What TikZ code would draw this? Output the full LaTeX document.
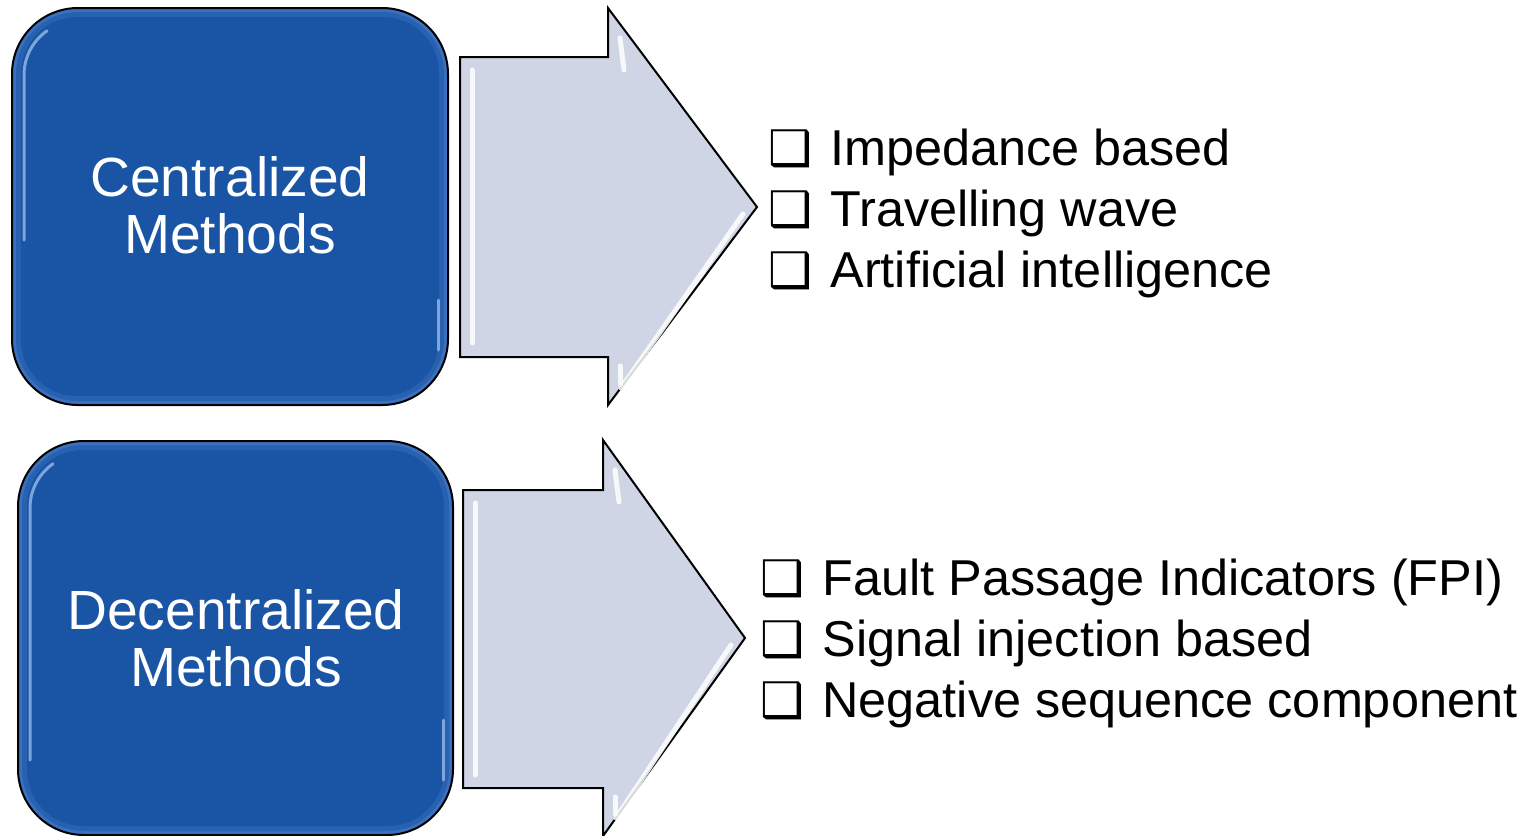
\documentclass[tikz,border=0pt]{standalone}
\usepackage{fontspec}
\setmainfont{Liberation Sans}
\newfontfamily\symfont{DejaVu Sans}
\definecolor{boxblue}{HTML}{1A55A5}
\definecolor{boxedge}{HTML}{3A70BD}
\definecolor{boxmid}{HTML}{2861AF}
\definecolor{hilite}{HTML}{9CC0EE}
\definecolor{arrowfill}{HTML}{CFD5E4}
\begin{document}
\begin{tikzpicture}[x=0.5pt,y=-0.5pt,
  outline/.style={draw=black,line width=1pt},
  boxtext/.style={text=white,align=center,font=\fontsize{27.6}{28.5}\selectfont,inner sep=0pt},
  itemtext/.style={anchor=base west,inner sep=0pt,font=\fontsize{25.2}{30}\selectfont},
  chk/.style={anchor=base west,inner sep=0pt,font=\symfont\fontsize{24.5}{30}\selectfont},
  bevel/.style={draw=white,line width=2.5pt,line cap=round,opacity=0.85},
  glow/.style={draw=hilite,line width=1.5pt,line cap=round,opacity=0.75},
  arrowshape/.style={outline,fill=arrowfill,line join=miter}
]
\useasboundingbox (0,0) rectangle (1533,836);

% ---------- top box ----------
\draw[outline,fill=boxedge,rounded corners=33pt] (12,8) rectangle (448,405);
\fill[boxmid,rounded corners=31pt] (16,12) rectangle (444,401);
\fill[boxblue,rounded corners=28pt] (21,17) rectangle (439,396);
\draw[glow] (24,240) -- (24,75) arc[start angle=180,end angle=235,radius=54];
\draw[glow] (438,300) -- (438,350);
\node[boxtext] (cen) at (230,205) {Centralized\\Methods};

% ---------- bottom box ----------
\draw[outline,fill=boxedge,rounded corners=33pt] (18,441) rectangle (453,835);
\fill[boxmid,rounded corners=31pt] (22,445) rectangle (449,831);
\fill[boxblue,rounded corners=28pt] (27,450) rectangle (444,826);
\draw[glow] (30,760) -- (30,508) arc[start angle=180,end angle=235,radius=54];
\draw[glow] (443,720) -- (443,780);
\node[boxtext] (dec) at (236,638) {Decentralized\\Methods};

% ---------- top arrow ----------
\draw[arrowshape] (460,57) -- (608,57) -- (608,8) -- (757,207) -- (608,405) -- (608,357) -- (460,357) -- cycle;
\draw[bevel] (472,70) -- (472,343);
\draw[bevel] (621,388) -- (743,214);
\draw[bevel] (620,38) -- (624,70);
\draw[bevel] (620,366) -- (620,384);

% ---------- bottom arrow ----------
\draw[arrowshape] (463,490) -- (603,490) -- (603,440) -- (745,638) -- (603,836) -- (603,788) -- (463,788) -- cycle;
\draw[bevel] (475,503) -- (475,775);
\draw[bevel] (616,818) -- (731,645);
\draw[bevel] (615,470) -- (619,502);
\draw[bevel] (615,797) -- (615,814);

% ---------- top list ----------
\node[chk] (b1) at (768,165) {❑};
\node[chk] (b2) at (768,226) {❑};
\node[chk] (b3) at (768,287) {❑};
\node[itemtext] (t1) at (830,165) {Impedance based};
\node[itemtext] (t2) at (830,226) {Travelling wave};
\node[itemtext] (t3) at (830,287) {Artificial intelligence};

% ---------- bottom list ----------
\node[chk] (b4) at (760,595) {❑};
\node[chk] (b5) at (760,656) {❑};
\node[chk] (b6) at (760,717) {❑};
\node[itemtext] (t4) at (822,595) {Fault Passage Indicators (FPI)};
\node[itemtext] (t5) at (822,656) {Signal injection based};
\node[itemtext] (t6) at (822,717) {Negative sequence component};
\end{tikzpicture}
\end{document}
